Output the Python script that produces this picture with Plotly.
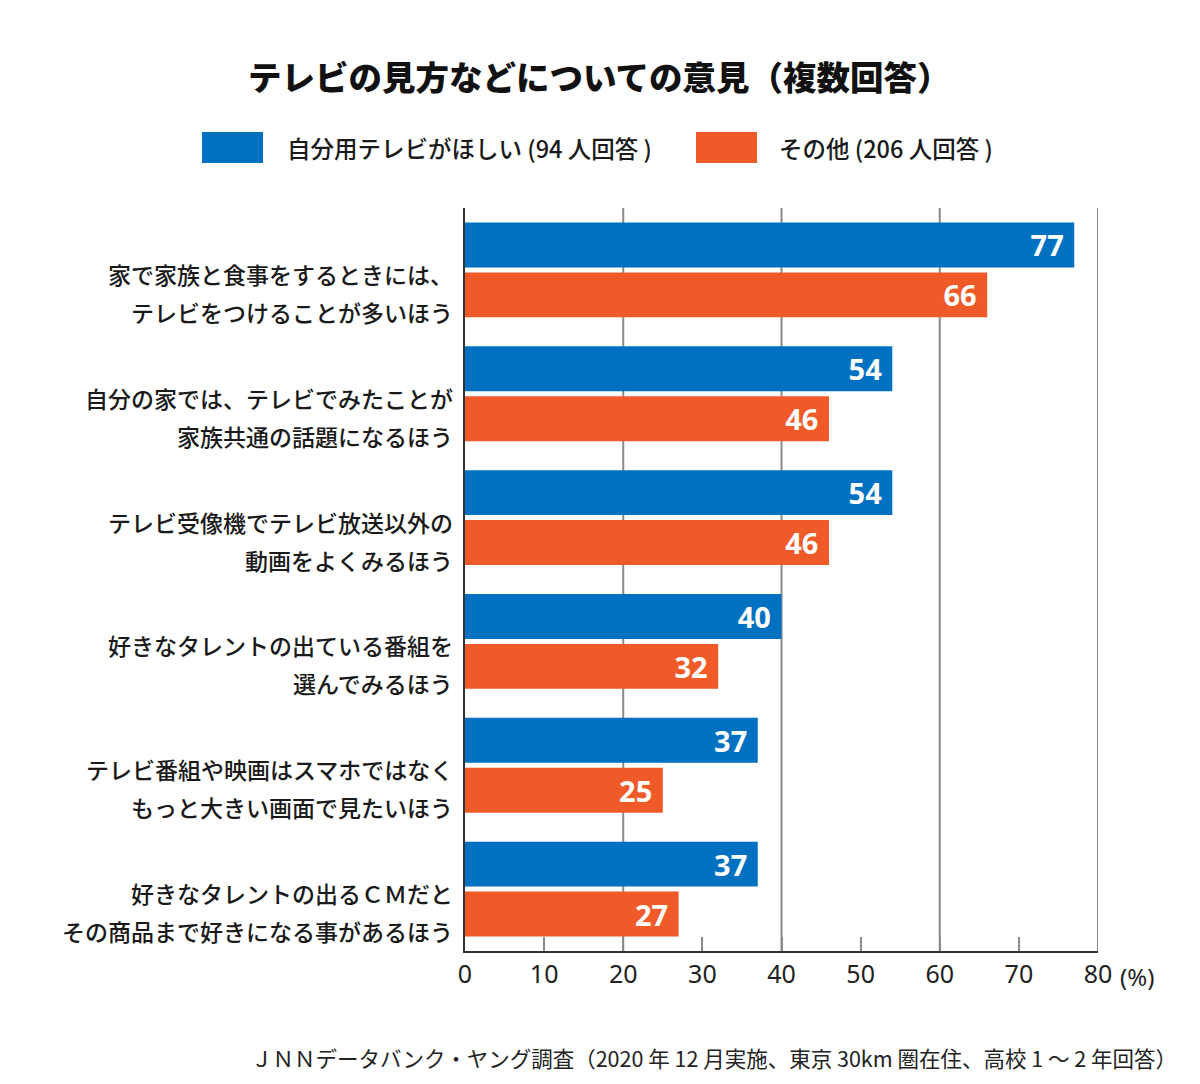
import plotly.graph_objects as go

categories = [
    "家で家族と食事をするときには、<br>テレビをつけることが多いほう",
    "自分の家では、テレビでみたことが<br>家族共通の話題になるほう",
    "テレビ受像機でテレビ放送以外の<br>動画をよくみるほう",
    "好きなタレントの出ている番組を<br>選んでみるほう",
    "テレビ番組や映画はスマホではなく<br>もっと大きい画面で見たいほう",
    "好きなタレントの出るＣＭだと<br>その商品まで好きになる事があるほう",
]
series_names = ["自分用テレビがほしい (94 人回答 )", "その他 (206 人回答 )"]
own_tv = [77, 54, 54, 40, 37, 37]
others = [66, 46, 46, 32, 25, 27]
tick_vals = [0, 10, 20, 30, 40, 50, 60, 70, 80]
grid_vals = [20, 40, 60, 80]

BLUE = "#0070C0"
ORANGE = "#F05A28"
JP = "Noto Sans CJK JP"

# page body has an 8px margin; figure coordinates are offset accordingly
OFF = 8
PL, PT, PW, PH = 465 - OFF, 208 - OFF, 633, 743

def px(x):
    return (x - OFF - PL) / PW

def py(y):
    return (PT + PH - (y - OFF)) / PH

fig = go.Figure()
for name, vals, col in [(series_names[0], own_tv, BLUE), (series_names[1], others, ORANGE)]:
    fig.add_trace(go.Bar(
        y=categories, x=vals, orientation="h", name=name,
        marker=dict(color=col, line=dict(width=0)),
        text=[f"{v}\u00a0" for v in vals],
        textposition="inside", insidetextanchor="end",
        textfont=dict(family="Noto Sans", size=29, color="white", weight="bold"),
        showlegend=False, cliponaxis=False,
    ))

shapes = []
for g in grid_vals:
    shapes.append(dict(type="line", xref="x", yref="paper", x0=g, x1=g, y0=0, y1=1,
                       line=dict(color="#8a8a8a", width=2), layer="below"))

annotations = []
for cat in categories:
    lines = cat.split("<br>")
    for i, ln in enumerate(lines):
        annotations.append(dict(
            text=ln, xref="paper", yref="y", x=0, y=cat, xanchor="right", yanchor="middle",
            xshift=-10, yshift=-4 - 38 * i, showarrow=False,
            font=dict(family=JP, size=23, color="#1a1a1a", weight=500),
        ))

# legend drawn manually
leg = [(series_names[0], BLUE, 202, 285), (series_names[1], ORANGE, 696, 777)]
for name, col, x0, tx in leg:
    shapes.append(dict(type="rect", xref="paper", yref="paper",
                       x0=px(x0), x1=px(x0 + 61),
                       y0=py(163), y1=py(132),
                       fillcolor=col, line=dict(width=0)))
    annotations.append(dict(text=name, xref="paper", yref="paper",
                            x=px(tx), y=py(148),
                            xanchor="left", yanchor="middle", showarrow=False,
                            font=dict(family=JP, size=23.5, color="#1a1a1a", weight=500)))

annotations.append(dict(text="テレビの見方などについての意見（複数回答）", xref="paper", yref="paper",
                        x=px(599), y=py(75), xanchor="center", yanchor="middle",
                        showarrow=False, font=dict(family=JP, size=33.5, color="#111111", weight=900)))
annotations.append(dict(text="(%)", xref="paper", yref="paper",
                        x=px(1118), y=py(977), xanchor="left", yanchor="middle",
                        showarrow=False, font=dict(family="Noto Sans", size=24, color="#222222")))
annotations.append(dict(text="ＪＮＮデータバンク・ヤング調査（2020 年 12 月実施、東京 30km 圏在住、高校 1 ～ 2 年回答）",
                        xref="paper", yref="paper",
                        x=px(1179), y=py(1057), xanchor="right", yanchor="middle",
                        showarrow=False, font=dict(family=JP, size=21.5, color="#222222")))

fig.update_layout(
    width=1200 - OFF, height=1084 - OFF,
    margin=dict(l=PL, r=1200 - OFF - PL - PW, t=PT, b=1084 - OFF - PT - PH, autoexpand=False),
    paper_bgcolor="white", plot_bgcolor="white",
    barmode="group", bargap=0.194, bargroupgap=0.1,
    shapes=shapes, annotations=annotations,
    uniformtext=dict(minsize=29, mode="show"),
    xaxis=dict(range=[0, 80], tickvals=tick_vals, showgrid=False, zeroline=False,
               ticks="inside", ticklen=14, tickwidth=2, tickcolor="#8a8a8a",
               showline=True, linecolor="#333333", linewidth=2,
               tickfont=dict(family="Noto Sans", size=25, color="#222222"),
               fixedrange=True),
    yaxis=dict(autorange="reversed", showticklabels=False, showgrid=False, ticks="",
               showline=True, linecolor="#333333", linewidth=2, zeroline=False),
)

fig.write_html("out.html")
